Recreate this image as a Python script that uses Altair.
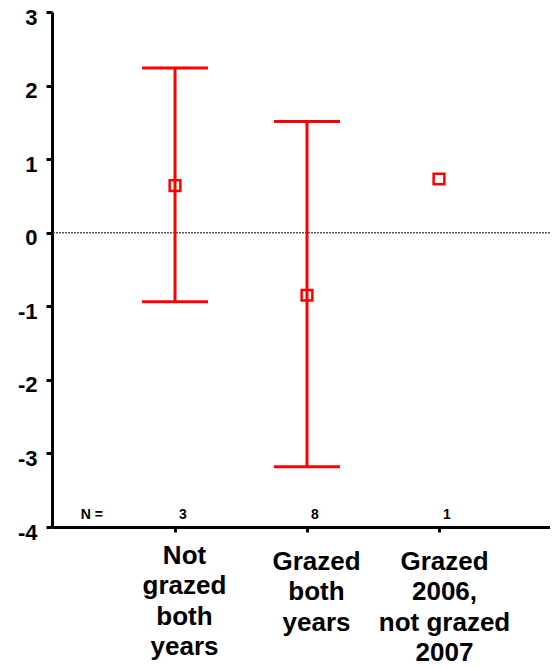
import json
import altair as alt
import pandas as pd

# ---- data ----
positions = [1, 2, 3]
group_lines = [
    ["Not", "grazed", "both", "years"],
    ["Grazed", "both", "years"],
    ["Grazed", "2006,", "not grazed", "2007"],
]
means = [0.64, -0.85, 0.73]
lows = [-0.94, -3.18, None]
highs = [2.24, 1.51, None]
counts = [3, 8, 1]
n_label = ["N ="]
y_ticks = [-4, -3, -2, -1, 0, 1, 2, 3]

df = pd.DataFrame({
    "pos": positions,
    "group": [" ".join(g) for g in group_lines],
    "mean": means,
    "n": counts,
})
bars = pd.DataFrame({"pos": positions[:2], "low": lows[:2], "high": highs[:2]})

RED = "#ff0000"
FONT = "Liberation Sans"

xscale = alt.Scale(domain=[0.068, 3.841], nice=False, zero=False)
yscale = alt.Scale(domain=[-4, 3], nice=False, zero=False)

label_expr = json.dumps(group_lines) + "[round(datum.value) - 1]"

x_axis = alt.Axis(
    values=positions, labelExpr=label_expr, title=None, grid=False,
    domainColor="black", domainWidth=3, tickColor="black", tickWidth=3,
    tickSize=5, labelFont=FONT, labelFontSize=26, labelFontWeight="bold",
    labelLineHeight=30.5, labelColor="black",
    labelPadding={"condition": {"test": "datum.value == 1", "value": 10}, "value": 16},
    labelOffset={"condition": {"test": "datum.value == 3", "value": 5}, "value": 9},
    labelOverlap=False, labelFlush=False,
)
y_axis = alt.Axis(
    values=y_ticks, labelExpr="datum.value + ''", title=None, grid=False,
    domainColor="black", domainWidth=3, tickColor="black", tickWidth=3,
    tickSize=6, labelFont=FONT, labelFontSize=22, labelFontWeight="bold",
    labelPadding=9, labelColor="black", labelOffset=5, labelFlush=False,
)

pts = alt.Chart(df).mark_point(
    shape="square", size=115, filled=True, fill="white", stroke=RED,
    strokeWidth=2.5, opacity=1,
).encode(
    x=alt.X("pos:Q", scale=xscale, axis=x_axis),
    y=alt.Y("mean:Q", scale=yscale, axis=y_axis),
)

zero = alt.Chart(df).mark_rule(color="#555555", strokeWidth=1, strokeDash=[2, 1]).encode(
    y=alt.datum(0)
)

err = alt.Chart(bars).mark_rule(color=RED, strokeWidth=3).encode(
    x="pos:Q", y="low:Q", y2="high:Q",
)
cap_lo = alt.Chart(bars).mark_tick(color=RED, orient="horizontal", size=66, thickness=3, opacity=1).encode(
    x="pos:Q", y="low:Q",
)
cap_hi = alt.Chart(bars).mark_tick(color=RED, orient="horizontal", size=66, thickness=3, opacity=1).encode(
    x="pos:Q", y="high:Q",
)

n_text = alt.Chart(df).mark_text(font=FONT, fontSize=14, fontWeight="bold", color="black", dx=8).encode(
    x="pos:Q",
    y=alt.datum(-3.84),
    text="n:Q",
)
n_head = alt.Chart(pd.DataFrame({"t": n_label})).mark_text(
    font=FONT, fontSize=14, fontWeight="bold", color="black"
).encode(
    x=alt.datum(0.37),
    y=alt.datum(-3.84),
    text="t:N",
)

chart = alt.layer(pts, zero, err, cap_lo, cap_hi, n_text, n_head).properties(
    width=498, height=515,
    autosize=alt.AutoSizeParams(type="none"),
    padding={"left": 44, "top": 4, "right": 0, "bottom": 141},
).configure_view(stroke=None)

chart.save("out.html", embed_options={"renderer": "svg", "actions": False})
